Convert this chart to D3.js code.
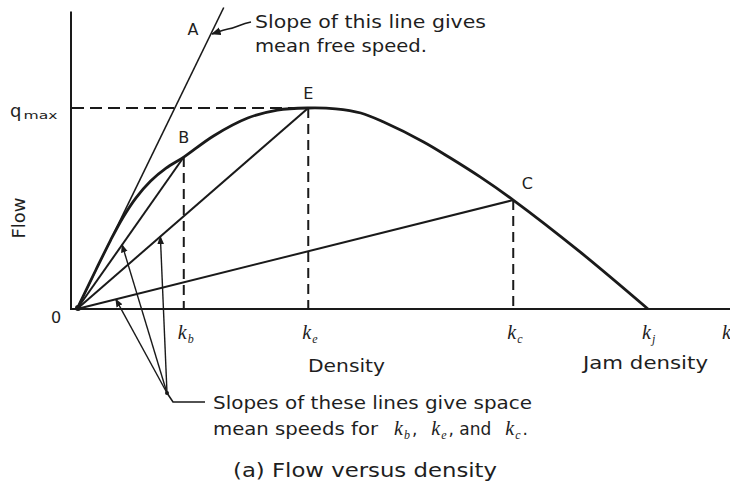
<!DOCTYPE html>
<html>
<head>
<meta charset="utf-8">
<script src="https://cdn.jsdelivr.net/npm/d3@7"></script>
<style>
  html, body { margin: 0; padding: 0; background: #fff; }
  svg { display: block; }
  .lbl { font-family: "DejaVu Sans", sans-serif; fill: #1e1e1e; }
  .kl { font-family: "Liberation Serif", serif; font-style: italic; fill: #1e1e1e; }
</style>
</head>
<body>
<svg id="chart" width="730" height="493"></svg>
<script>
// Flow–density relation (density and flow in relative units, q_max = 100, k_j = 100)
const curveDensity = [0, 3.3, 5.9, 8.0, 10.3, 12.9, 15.6, 18.7, 23.9, 29.9, 35.1, 40.5, 45.3, 49.7, 53.7, 60.7, 65.4, 70.6, 76.4, 88.1, 100];
const curveFlow    = [0, 19.4, 34.3, 45.3, 55.2, 63.7, 70.1, 75.6, 86.1, 95.0, 99.0, 100, 99.6, 97.5, 93.0, 83.1, 75.1, 65.7, 54.2, 28.4, 0];

// Marked operating points on the curve
const pointNames   = ["B", "E", "C"];
const pointDensity = [18.7, 40.5, 76.4];
const pointFlow    = [75.6, 100, 54.2];

// Free-speed tangent line O–A
const freeLineDensity = [0, 25.7];
const freeLineFlow    = [0, 150];

// Density axis labels (k with subscript)
const kSubs     = ["b", "e", "c", "j", ""];
const kDensity  = [18.7, 40.5, 76.4, 100, 114];

// Axis extents
const densityMax = 115;
const flowMax = 148;
const qMax = 100;

// Where the three leader lines touch the chords O–C, O–B, O–E (density on each chord)
const leaderChord   = [2, 0, 1];
const leaderDensity = [6.8, 7.9, 14.6];

const svg = d3.select("#chart");
const ink = "#1a1a1a";

const x = d3.scaleLinear().domain([0, 100]).range([77, 648]);
const y = d3.scaleLinear().domain([0, 100]).range([309, 108]);

svg.append("defs").append("marker")
  .attr("id", "arrow").attr("viewBox", "0 0 10 10")
  .attr("refX", 9).attr("refY", 5)
  .attr("markerWidth", 6).attr("markerHeight", 6)
  .attr("orient", "auto-start-reverse")
  .append("path").attr("d", "M0,1 L10,5 L0,9 Z").attr("fill", ink);

// Axes
svg.append("line")
  .attr("x1", x(0) - 6).attr("x2", x(0) - 6)
  .attr("y1", y(flowMax)).attr("y2", y(0) + 1)
  .attr("stroke", ink).attr("stroke-width", 2);
svg.append("line")
  .attr("x1", x(0) - 6).attr("x2", x(densityMax))
  .attr("y1", y(0)).attr("y2", y(0))
  .attr("stroke", ink).attr("stroke-width", 2);

// Dashed guides: q_max and the densities of B, E, C
svg.append("line")
  .attr("x1", x(0) - 5).attr("x2", x(pointDensity[1]))
  .attr("y1", y(qMax)).attr("y2", y(qMax))
  .attr("stroke", ink).attr("stroke-width", 2)
  .attr("stroke-dasharray", "12,6");
svg.selectAll("line.vdash").data(pointDensity).join("line")
  .attr("class", "vdash")
  .attr("x1", d => x(d)).attr("x2", d => x(d))
  .attr("y1", (d, i) => y(pointFlow[i])).attr("y2", y(0))
  .attr("stroke", ink).attr("stroke-width", 2)
  .attr("stroke-dasharray", "10,6");

// Chords from the origin to B, E, C
svg.selectAll("line.chord").data(pointDensity).join("line")
  .attr("class", "chord")
  .attr("x1", x(0)).attr("y1", y(0))
  .attr("x2", d => x(d)).attr("y2", (d, i) => y(pointFlow[i]))
  .attr("stroke", ink).attr("stroke-width", 2);

// Free-speed line
svg.append("line")
  .attr("x1", x(freeLineDensity[0])).attr("y1", y(freeLineFlow[0]))
  .attr("x2", x(freeLineDensity[1])).attr("y2", y(freeLineFlow[1]))
  .attr("stroke", ink).attr("stroke-width", 1.6);

// Flow–density curve
const curvePts = curveDensity.map((k, i) => [k, curveFlow[i]]);
svg.append("path")
  .attr("d", d3.line().x(d => x(d[0])).y(d => y(d[1])).curve(d3.curveCatmullRom)(curvePts))
  .attr("fill", "none").attr("stroke", ink).attr("stroke-width", 2.8);

// Origin blob
svg.append("circle").attr("cx", x(0) + 1).attr("cy", y(0) - 1).attr("r", 3).attr("fill", ink);

// Point letters
const letterOffsets = [[0, -14], [0, -9], [14, -11]];
svg.selectAll("text.pt").data(pointNames).join("text")
  .attr("class", "lbl pt")
  .attr("x", (d, i) => x(pointDensity[i]) + letterOffsets[i][0])
  .attr("y", (d, i) => y(pointFlow[i]) + letterOffsets[i][1])
  .attr("text-anchor", "middle")
  .attr("font-size", 16)
  .text(d => d);
svg.append("text").attr("class", "lbl")
  .attr("x", 193).attr("y", 35).attr("text-anchor", "middle")
  .attr("font-size", 16).text("A");

// q_max label
const qm = svg.append("text").attr("class", "lbl").attr("x", 10).attr("y", y(qMax) + 9);
qm.append("tspan").attr("font-size", 18).text("q");
qm.append("tspan").attr("font-size", 11).attr("dx", 2).attr("dy", 2)
  .attr("textLength", 34).attr("lengthAdjust", "spacingAndGlyphs").text("max");

// Origin label
svg.append("text").attr("class", "lbl")
  .attr("x", 56).attr("y", y(0) + 14).attr("text-anchor", "middle")
  .attr("font-size", 16).text("0");

// Axis titles
svg.append("text").attr("class", "lbl")
  .attr("transform", `translate(25,218) rotate(-90)`)
  .attr("text-anchor", "middle").attr("font-size", 18).text("Flow");
svg.append("text").attr("class", "lbl")
  .attr("x", 308).attr("y", 372)
  .attr("font-size", 17).attr("textLength", 77).attr("lengthAdjust", "spacingAndGlyphs")
  .text("Density");
svg.append("text").attr("class", "lbl")
  .attr("x", 583).attr("y", 369)
  .attr("font-size", 17).attr("textLength", 125).attr("lengthAdjust", "spacingAndGlyphs")
  .text("Jam density");

// Density labels k_b, k_e, k_c, k_j, k
kSubs.forEach((s, i) => {
  const t = svg.append("text").attr("class", "kl")
    .attr("x", x(kDensity[i]) - 6).attr("y", y(0) + 30);
  t.append("tspan").attr("font-size", 20).text("k");
  if (s) t.append("tspan").attr("font-size", 12).attr("dx", 1).attr("dy", 4).text(s);
});

// Annotation for the free-speed line
svg.append("text").attr("class", "lbl").attr("x", 255).attr("y", 28)
  .attr("font-size", 17).attr("textLength", 231).attr("lengthAdjust", "spacingAndGlyphs")
  .text("Slope of this line gives");
svg.append("text").attr("class", "lbl").attr("x", 255).attr("y", 52)
  .attr("font-size", 17).attr("textLength", 172).attr("lengthAdjust", "spacingAndGlyphs")
  .text("mean free speed.");
svg.append("path")
  .attr("d", "M251,22 C240,24 236,28 228,29 C222,30 218,32 212,34")
  .attr("fill", "none").attr("stroke", ink).attr("stroke-width", 1.6)
  .attr("marker-end", "url(#arrow)");

// Leader lines to the three chords
const hub = [167, 393];
leaderDensity.forEach((k, i) => {
  const j = leaderChord[i];
  const q = k * pointFlow[j] / pointDensity[j];
  svg.append("line")
    .attr("x1", hub[0]).attr("y1", hub[1])
    .attr("x2", x(k)).attr("y2", y(q))
    .attr("stroke", ink).attr("stroke-width", 1.4)
    .attr("marker-end", "url(#arrow)");
});
svg.append("path")
  .attr("d", `M${hub[0]},${hub[1]} L173,402 L205,402`)
  .attr("fill", "none").attr("stroke", ink).attr("stroke-width", 1.6);
svg.append("circle").attr("cx", hub[0]).attr("cy", hub[1]).attr("r", 2).attr("fill", ink);

svg.append("text").attr("class", "lbl").attr("x", 213).attr("y", 409)
  .attr("font-size", 17).attr("textLength", 319).attr("lengthAdjust", "spacingAndGlyphs")
  .text("Slopes of these lines give space");
const s2 = svg.append("text").attr("class", "lbl").attr("x", 213).attr("y", 435).attr("font-size", 17);
s2.append("tspan").attr("textLength", 165).attr("lengthAdjust", "spacingAndGlyphs").text("mean speeds for");
[["b", ",", 16], ["e", ", and", 14], ["c", ".", 14]].forEach(([sub, after, gap]) => {
  s2.append("tspan").attr("dx", gap).attr("font-style", "italic")
    .attr("font-family", "Liberation Serif, serif").attr("font-size", 20).text("k");
  s2.append("tspan").attr("font-style", "italic").attr("dx", 1)
    .attr("font-family", "Liberation Serif, serif").attr("font-size", 12).attr("dy", 4).text(sub);
  s2.append("tspan").attr("dy", -4).attr("dx", 2).text(after);
});

// Caption
svg.append("text").attr("class", "lbl")
  .attr("x", 233).attr("y", 477)
  .attr("font-size", 19).attr("textLength", 264).attr("lengthAdjust", "spacingAndGlyphs")
  .text("(a) Flow versus density");
</script>
</body>
</html>
